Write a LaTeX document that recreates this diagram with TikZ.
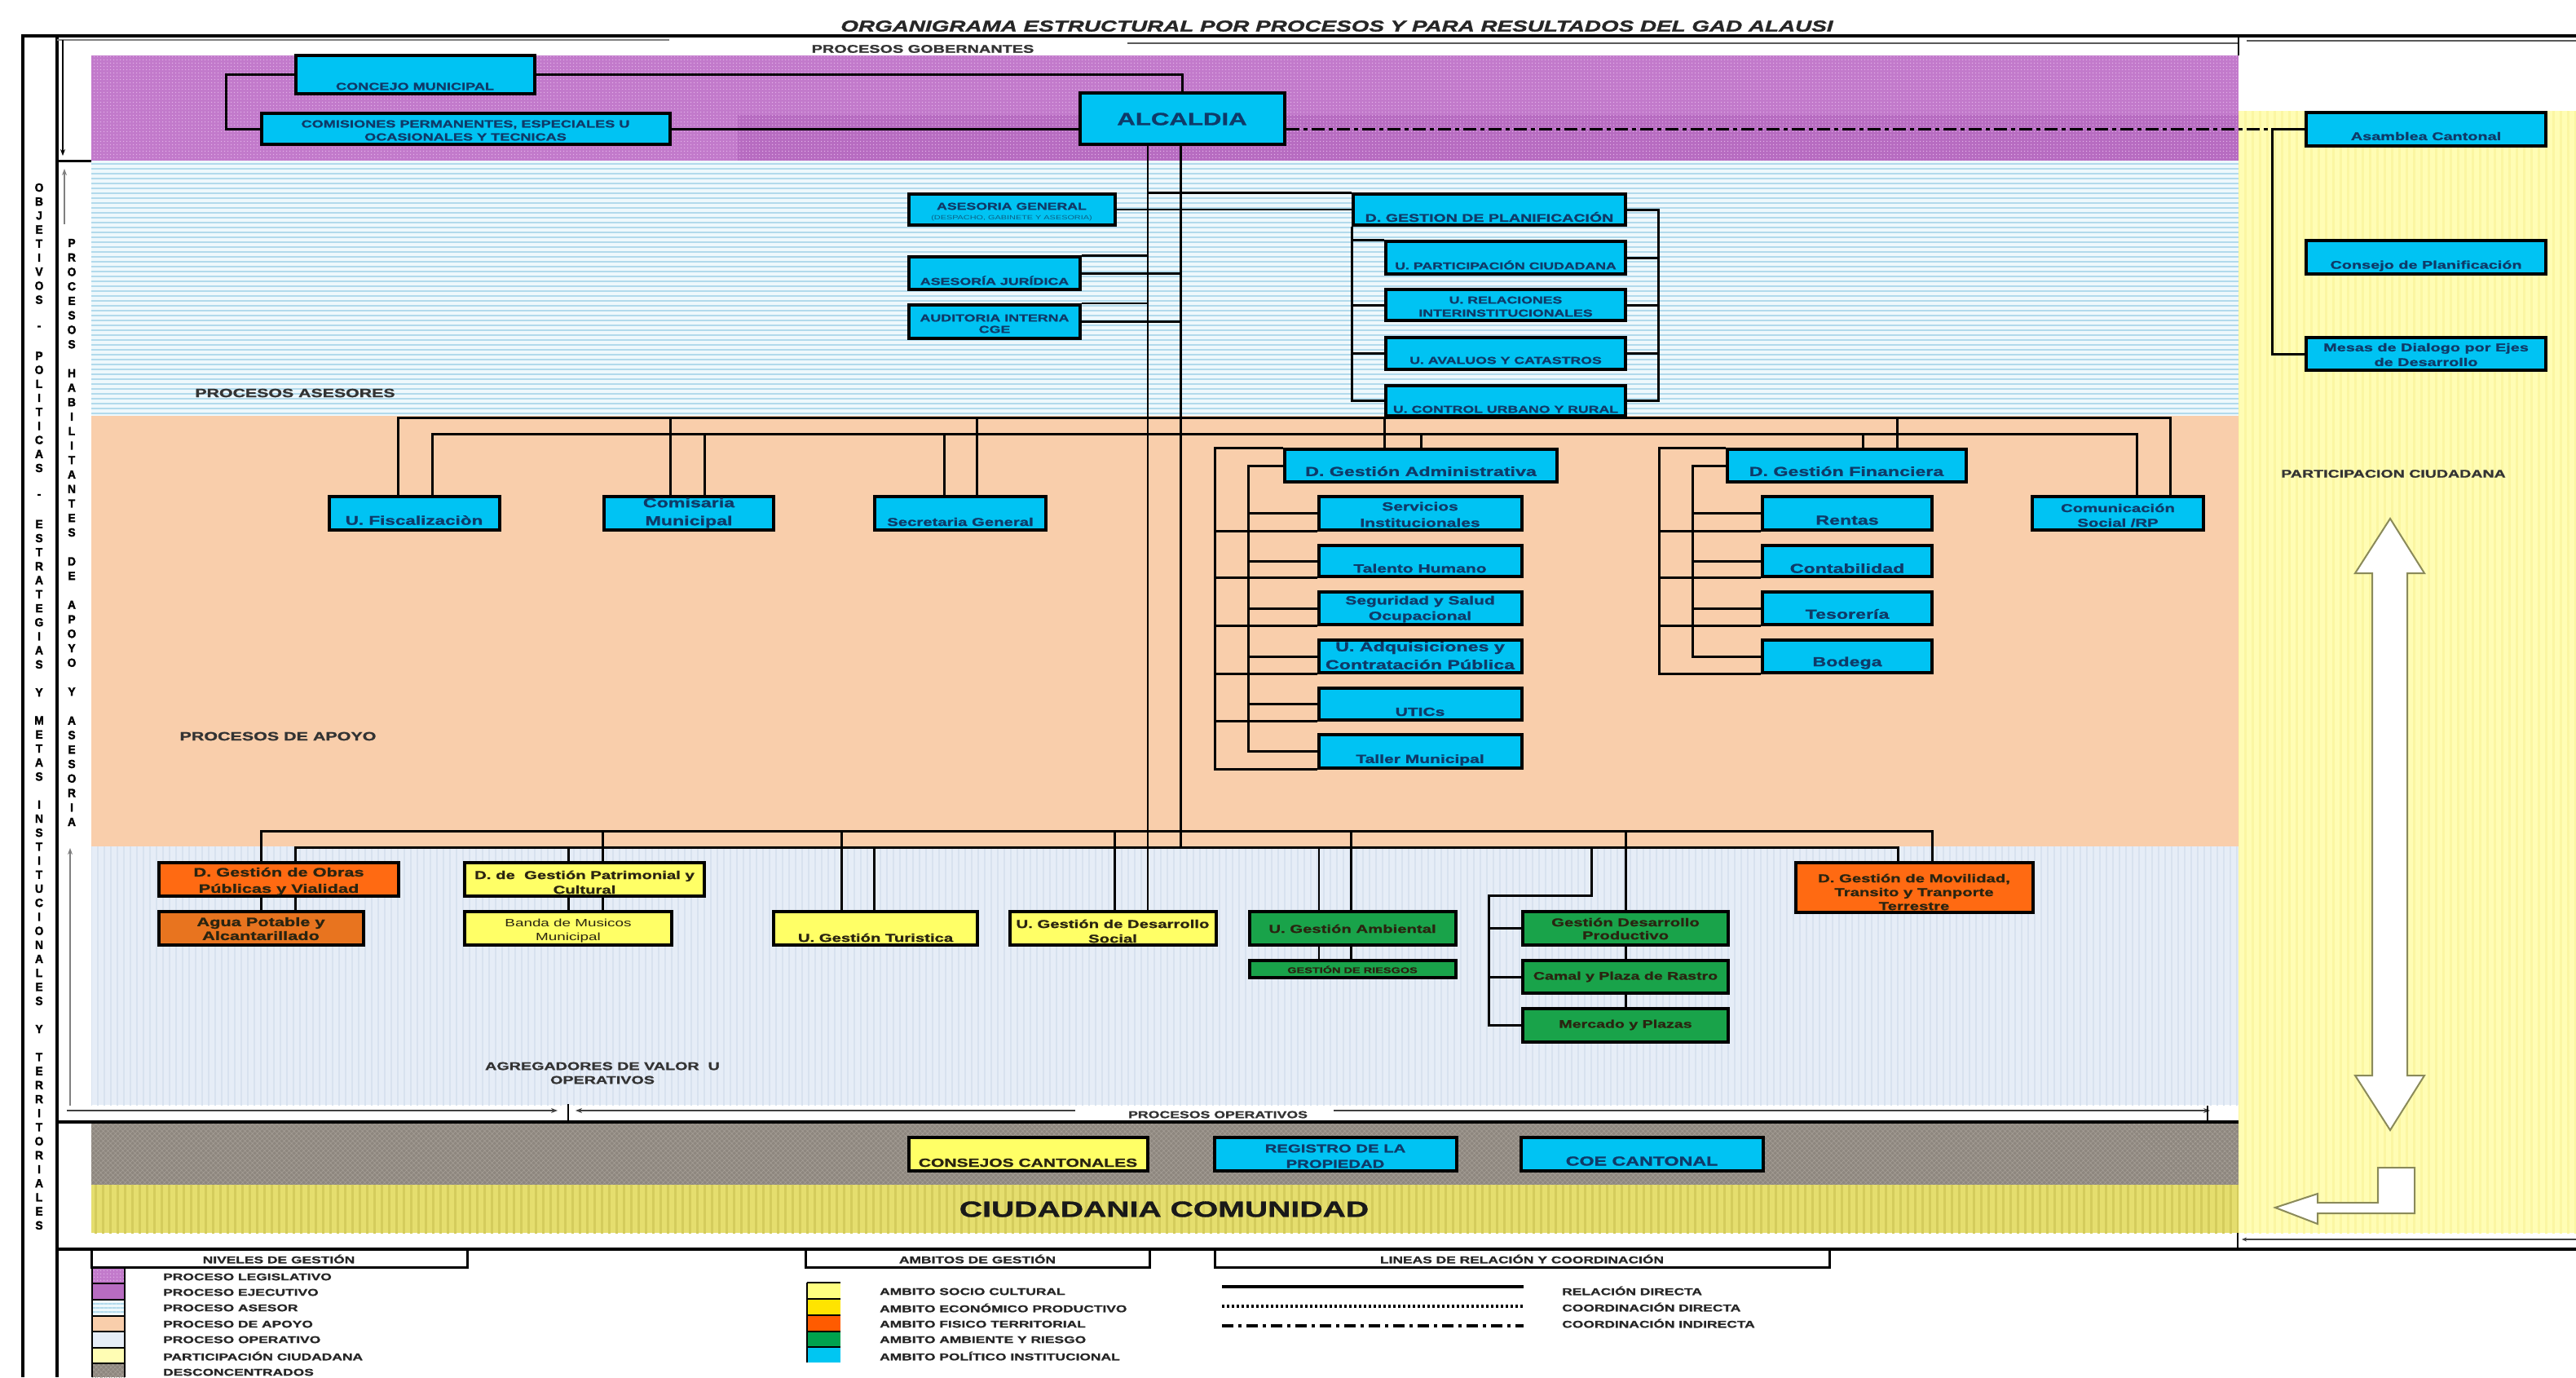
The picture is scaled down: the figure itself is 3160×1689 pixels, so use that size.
\documentclass[tikz,border=0pt]{standalone}
\usepackage{fontspec}
\setmainfont{Liberation Sans}[FakeStretch=1.45,BoldFeatures={FakeBold=1.3},BoldItalicFeatures={FakeBold=1.3}]
\newfontfamily\vfont{Liberation Sans}[FakeStretch=0.95,BoldFeatures={FakeBold=2}]
\usetikzlibrary{fit,arrows.meta,patterns.meta}
\definecolor{purpA}{HTML}{C27ACB}
\definecolor{purpDot}{HTML}{E2B0E8}
\definecolor{purpB}{HTML}{B76CC1}
\definecolor{asesorBase}{HTML}{EEF8FC}
\definecolor{asesorLine}{HTML}{B2DAEC}
\definecolor{apoyo}{HTML}{F9CEAB}
\definecolor{oper}{HTML}{E6EDF7}
\definecolor{operLine}{HTML}{D8E2EF}
\definecolor{desc}{HTML}{8E877F}
\definecolor{descLine}{HTML}{A59E95}
\definecolor{ciud}{HTML}{E5DE6E}
\definecolor{ciudLine}{HTML}{D4CC5C}
\definecolor{part}{HTML}{FFFDB4}
\definecolor{partLine}{HTML}{FBF6A2}
\definecolor{cyanbox}{HTML}{00C3F3}
\definecolor{orangebox}{HTML}{FF6A12}
\definecolor{aguabox}{HTML}{E8741F}
\definecolor{yellowbox}{HTML}{FFFF66}
\definecolor{greenbox}{HTML}{19A34A}
\definecolor{navy}{HTML}{0F3A68}
\definecolor{darktext}{HTML}{2A2410}
\definecolor{socio}{HTML}{FFFF80}
\definecolor{econ}{HTML}{FFE400}
\definecolor{fisico}{HTML}{FF5B00}
\definecolor{ambc}{HTML}{00A24E}
\definecolor{polc}{HTML}{00C6F2}
\definecolor{arrowedge}{HTML}{8A8A5A}
\newcommand\fs[2]{\fontsize{#1}{#2}\selectfont}
\newcommand\BX[6]{\node[#1, fit={(#3,#4) (#5,#6)}] (#2) {};}
\begin{document}
\begin{tikzpicture}[x=1pt,y=-1pt,
  box/.style={draw=black,line width=3.5pt,inner sep=0pt},
  cb/.style={box,fill=cyanbox},
  ob/.style={box,fill=orangebox},
  ab/.style={box,fill=aguabox},
  yb/.style={box,fill=yellowbox},
  gb/.style={box,fill=greenbox},
  ct/.style={inner sep=0pt,align=center,text=navy},
  kt/.style={inner sep=0pt,align=center,text=darktext},
  lab/.style={inner sep=0pt,align=center,text=black!80},
  rel/.style={line width=3pt},
  thinl/.style={line width=1.6pt},
  dd/.style={line width=3pt,dash pattern=on 16pt off 5pt on 5pt off 5pt},
  vl/.style={inner sep=0pt,font=\vfont\bfseries\fs{14.5}{15},text=black},
  tip/.style={-{Stealth[length=8pt,width=6pt]}},
  lh/.style={draw=black,line width=3pt,inner sep=0pt},
  sw/.style={draw=black,line width=2pt},
  lg/.style={inner sep=0pt,anchor=west,font=\bfseries\fs{12}{14},text=black!85}
]
\useasboundingbox (0,0) rectangle (3160,1689);
\fill[white] (0,0) rectangle (3160,1689);

% ---------- bands ----------
\fill[purpA] (112,68) rectangle (2746,197);
\fill[purpB] (905,141) rectangle (2746,197);
\fill[pattern={Dots[radius=0.9pt,distance=4pt]},pattern color=purpDot] (112,68) rectangle (2746,197);
\fill[asesorBase] (112,197) rectangle (2746,510);
\fill[pattern={Lines[angle=0,distance=6pt,line width=2.4pt]},pattern color=asesorLine] (112,197) rectangle (2746,510);
\fill[apoyo] (112,510) rectangle (2746,1038);
\fill[oper] (112,1038) rectangle (2746,1355);
\fill[pattern={Lines[angle=90,distance=8pt,line width=2pt]},pattern color=operLine] (112,1038) rectangle (2746,1355);
\fill[desc] (112,1378) rectangle (2746,1453);
\fill[pattern={Hatch[angle=45,distance=4pt,line width=0.8pt]},pattern color=descLine] (112,1378) rectangle (2746,1453);
\fill[ciud] (112,1453) rectangle (2746,1512);
\fill[pattern={Lines[angle=90,distance=9pt,line width=3pt]},pattern color=ciudLine] (112,1453) rectangle (2746,1512);
\fill[part] (2746,136) rectangle (3160,1512);
\fill[pattern={Lines[angle=90,distance=9pt,line width=3pt]},pattern color=partLine] (2746,136) rectangle (3160,1512);

% ---------- frame ----------
\draw[line width=3.2pt] (28,1689) -- (28,44) -- (3160,44);
\draw[line width=3.2pt] (70,44) -- (70,1689);
\draw[line width=3pt] (70,197) -- (112,197);
\draw[line width=4pt] (70,1376) -- (2746,1376);
\draw[line width=4pt] (70,1532) -- (3160,1532);
\draw[gray,line width=1.5pt] (70,49) -- (821,49);
\draw[gray!70!black,line width=1.2pt] (1383,53) -- (2746,53);
\draw[gray!70!black,line width=1.2pt] (2756,50) -- (3160,50);
\draw[line width=2pt] (2746,44) -- (2746,68);
\draw[line width=1.2pt,tip] (77,49) -- (77,191);
\draw[gray,line width=1.5pt,tip] (79,275) -- (79,207);
\draw[gray,line width=2pt,tip] (86,1356) -- (86,1040);

% ---------- title & labels ----------
\node[inner sep=0pt,font=\bfseries\itshape\fs{19.2}{22},text=black!85] (title) at (1640,32) {ORGANIGRAMA ESTRUCTURAL POR PROCESOS Y PARA RESULTADOS DEL GAD ALAUSI};
\node[lab,font=\bfseries\fs{13.7}{16}] (lgob) at (1132,60) {PROCESOS GOBERNANTES};
\node[lab,font=\bfseries\fs{14.7}{17}] (lase) at (362,482) {PROCESOS ASESORES};
\node[lab,font=\bfseries\fs{14.8}{17}] (lapo) at (341,903) {PROCESOS DE APOYO};
\node[lab,font=\bfseries\fs{13.6}{17}] (lagr) at (739,1316) {AGREGADORES DE VALOR\ \ U\\OPERATIVOS};
\node[lab,font=\bfseries\fs{12.2}{14}] (lope) at (1494,1367) {PROCESOS OPERATIVOS};
\node[lab,font=\bfseries\fs{13.5}{16}] (lpar) at (2936,581) {PARTICIPACION CIUDADANA};
\node[inner sep=0pt,font=\bfseries\fs{27}{30},text=black!90] (lciu) at (1428,1483) {CIUDADANIA COMUNIDAD};

% vertical letters
\foreach \ch [count=\i from 0] in {O,B,J,E,T,I,V,O,S,{},-,{},P,O,L,I,T,I,C,A,S,{},-,{},E,S,T,R,A,T,E,G,I,A,S,{},Y,{},M,E,T,A,S,{},I,N,S,T,I,T,U,C,I,O,N,A,L,E,S,{},Y,{},T,E,R,R,I,T,O,R,I,A,L,E,S}
  \node[vl] (ov\i) at (48,{230+17.2*\i}) {\ch};
\foreach \ch [count=\i from 0] in {P,R,O,C,E,S,O,S,{},H,A,B,I,L,I,T,A,N,T,E,S,{},D,E,{},A,P,O,Y,O,{},Y,{},A,S,E,S,O,R,I,A}
  \node[vl] (iv\i) at (88,{298+17.75*\i}) {\ch};

% ---------- boxes ----------
\BX{cb}{conc}{363}{68}{656}{115}
\BX{cb}{com}{321}{139}{822}{177}
\BX{cb}{alc}{1325}{114}{1576}{177}
\BX{cb}{ag}{1115}{238}{1368}{276}
\BX{cb}{aj}{1115}{315}{1325}{355}
\BX{cb}{au}{1115}{374}{1325}{415}
\BX{cb}{dgp}{1660}{238}{1994}{276}
\BX{cb}{upart}{1700}{296}{1994}{336}
\BX{cb}{urel}{1700}{355}{1994}{393}
\BX{cb}{uaval}{1700}{414}{1994}{453}
\BX{cb}{uctrl}{1700}{473}{1994}{510}
\BX{cb}{ufis}{404}{609}{613}{650}
\BX{cb}{comis}{741}{609}{949}{650}
\BX{cb}{secr}{1073}{609}{1283}{650}
\BX{cb}{dga}{1576}{551}{1910}{591}
\BX{cb}{dgf}{2119}{551}{2412}{591}
\BX{cb}{comu}{2493}{609}{2703}{650}
\BX{cb}{serv}{1618}{609}{1867}{650}
\BX{cb}{tal}{1618}{669}{1867}{707}
\BX{cb}{seg}{1618}{726}{1867}{766}
\BX{cb}{adq}{1618}{785}{1867}{825}
\BX{cb}{utic}{1618}{844}{1867}{883}
\BX{cb}{tall}{1618}{901}{1867}{942}
\BX{cb}{rent}{2162}{609}{2370}{650}
\BX{cb}{cont}{2162}{669}{2370}{707}
\BX{cb}{teso}{2162}{726}{2370}{766}
\BX{cb}{bode}{2162}{785}{2370}{825}
\BX{ob}{obras}{195}{1058}{489}{1099}
\BX{ab}{agua}{195}{1118}{446}{1159}
\BX{yb}{patr}{570}{1058}{864}{1099}
\BX{yb}{banda}{570}{1118}{824}{1159}
\BX{yb}{turi}{949}{1118}{1199}{1159}
\BX{yb}{dsoc}{1239}{1118}{1492}{1159}
\BX{gb}{amb}{1533}{1118}{1786}{1159}
\BX{gb}{ries}{1533}{1178}{1786}{1199}
\BX{gb}{gdp}{1868}{1118}{2120}{1159}
\BX{gb}{camal}{1868}{1178}{2120}{1218}
\BX{gb}{merc}{1868}{1237}{2120}{1278}
\BX{ob}{mov}{2203}{1058}{2494}{1119}
\BX{yb}{ccant}{1115}{1395}{1408}{1436}
\BX{cb}{regp}{1490}{1395}{1787}{1436}
\BX{cb}{coe}{1866}{1395}{2163}{1436}
\BX{cb}{asam}{2829}{138}{3123}{179}
\BX{cb}{cplan}{2829}{295}{3123}{336}
\BX{cb}{mesas}{2829}{414}{3123}{454}

% ---------- box texts ----------
\node[ct,font=\bfseries\fs{12.5}{16}] (concT) at (509,106) {CONCEJO MUNICIPAL};
\node[ct,font=\bfseries\fs{12.5}{16}] (comT) at (571,160) {COMISIONES PERMANENTES, ESPECIALES U\\OCASIONALES Y TECNICAS};
\node[ct,font=\bfseries\fs{21.5}{24}] (alcT) at (1450,146) {ALCALDIA};
\node[ct,font=\bfseries\fs{12.2}{14}] (agT) at (1241,253) {ASESORIA GENERAL};
\node[ct,font=\fs{7.5}{9},text=navy!80!cyan] (agT2) at (1241,268) {(DESPACHO, GABINETE Y ASESORIA)};
\node[ct,font=\bfseries\fs{12.3}{14}] (ajT) at (1220,344) {ASESORÍA JURÍDICA};
\node[ct,font=\bfseries\fs{12.3}{14}] (auT) at (1220,397) {AUDITORIA INTERNA\\CGE};
\node[ct,font=\bfseries\fs{13.5}{16}] (dgpT) at (1827,266) {D. GESTION DE PLANIFICACIÓN};
\node[ct,font=\bfseries\fs{12.2}{16}] (upartT) at (1847,325) {U. PARTICIPACIÓN CIUDADANA};
\node[ct,font=\bfseries\fs{12.2}{16}] (urelT) at (1847,376) {U. RELACIONES\\INTERINSTITUCIONALES};
\node[ct,font=\bfseries\fs{12.2}{16}] (uavalT) at (1847,442) {U. AVALUOS Y CATASTROS};
\node[ct,font=\bfseries\fs{12.2}{16}] (uctrlT) at (1847,502) {U. CONTROL URBANO Y RURAL};
\node[ct,font=\bfseries\fs{15.5}{18}] (ufisT) at (508,638) {U. Fiscalizaciòn};
\node[ct,font=\bfseries\fs{16}{22}] (comisT) at (845,629) {Comisaria\\Municipal};
\node[ct,font=\bfseries\fs{14}{16}] (secrT) at (1178,640) {Secretaria General};
\node[ct,font=\bfseries\fs{16}{18}] (dgaT) at (1743,578) {D. Gestión Administrativa};
\node[ct,font=\bfseries\fs{16}{18}] (dgfT) at (2265,578) {D. Gestión Financiera};
\node[ct,font=\bfseries\fs{14}{18}] (comuT) at (2598,632) {Comunicación\\Social /RP};
\node[ct,font=\bfseries\fs{14.5}{20}] (servT) at (1742,631) {Servicios\\Institucionales};
\node[ct,font=\bfseries\fs{14.5}{16}] (talT) at (1742,697) {Talento Humano};
\node[ct,font=\bfseries\fs{14.5}{19}] (segT) at (1742,747) {Seguridad y Salud\\Ocupacional};
\node[ct,font=\bfseries\fs{16}{22}] (adqT) at (1742,804) {U. Adquisiciones y\\Contratación Pública};
\node[ct,font=\bfseries\fs{14.5}{16}] (uticT) at (1742,873) {UTICs};
\node[ct,font=\bfseries\fs{14.5}{16}] (tallT) at (1742,932) {Taller Municipal};
\node[ct,font=\bfseries\fs{16}{18}] (rentT) at (2266,638) {Rentas};
\node[ct,font=\bfseries\fs{16}{18}] (contT) at (2266,697) {Contabilidad};
\node[ct,font=\bfseries\fs{16}{18}] (tesoT) at (2266,753) {Tesorería};
\node[ct,font=\bfseries\fs{16}{18}] (bodeT) at (2266,813) {Bodega};
\node[kt,font=\bfseries\fs{15}{20}] (obrasT) at (342,1081) {D. Gestión de Obras\\Públicas y Vialidad};
\node[kt,font=\bfseries\fs{15}{17}] (aguaT) at (320,1139) {Agua Potable y\\Alcantarillado};
\node[kt,font=\bfseries\fs{14}{18}] (patrT) at (717,1082) {D. de\ \ Gestión Patrimonial y\\Cultural};
\node[kt,font=\fs{13}{17}] (bandaT) at (697,1142) {Banda de Musicos\\Municipal};
\node[kt,font=\bfseries\fs{14}{16}] (turiT) at (1074,1150) {U. Gestión Turistica};
\node[kt,font=\bfseries\fs{14}{18}] (dsocT) at (1365,1142) {U. Gestión de Desarrollo\\Social};
\node[kt,font=\bfseries\fs{14}{16}] (ambT) at (1659,1139) {U. Gestión Ambiental};
\node[kt,font=\bfseries\fs{10}{12}] (riesT) at (1659,1189) {GESTIÓN DE RIESGOS};
\node[kt,font=\bfseries\fs{14}{16}] (gdpT) at (1994,1139) {Gestión Desarrollo\\Productivo};
\node[kt,font=\bfseries\fs{13.5}{16}] (camalT) at (1994,1198) {Camal y Plaza de Rastro};
\node[kt,font=\bfseries\fs{13.5}{16}] (mercT) at (1994,1257) {Mercado y Plazas};
\node[kt,font=\bfseries\fs{14}{17}] (movT) at (2348,1094) {D. Gestión de Movilidad,\\Transito y Tranporte\\Terrestre};
\node[kt,font=\bfseries\fs{14.5}{17}] (ccantT) at (1261,1426) {CONSEJOS CANTONALES};
\node[ct,font=\bfseries\fs{14}{19}] (regpT) at (1638,1418) {REGISTRO DE LA\\PROPIEDAD};
\node[ct,font=\bfseries\fs{16}{18}] (coeT) at (2014,1424) {COE CANTONAL};
\node[ct,font=\bfseries\fs{13.7}{16}] (asamT) at (2976,167) {Asamblea Cantonal};
\node[ct,font=\bfseries\fs{13.7}{16}] (cplanT) at (2976,326) {Consejo de Planificación};
\node[ct,font=\bfseries\fs{13.7}{18}] (mesasT) at (2976,435) {Mesas de Dialogo por Ejes\\de Desarrollo};

% ---------- connectors ----------
\coordinate (T1) at (1408,0);
\coordinate (T2) at (1448,0);
\coordinate (b1) at (0,512);
\coordinate (b2) at (0,532);
\coordinate (b3) at (0,1019);
\coordinate (b4) at (0,1039);
\coordinate (pr) at (2034,0);
\coordinate (vr) at (2787,158);
\coordinate (pg) at (1826,1098);

\draw[rel] (conc.east) -| (alc.north);
\draw[rel] (conc.west) -- ++(-84,0) |- (com.west);
\draw[rel] (com.east) -- (com.east -| alc.west);
\draw[dd] (alc.east |- vr) -- (vr);
\draw[rel] (asam.west) -| (mesas.west -| vr) -- (mesas.west);

\draw[thinl] (alc.south -| T1) -- (dsoc.north -| T1);
\draw[rel] (alc.south -| T2) -- (T2 |- b4);

\draw[rel] (dgp.north west) -- (dgp.north west -| T1);
\draw[thinl] (ag.east) -- (ag.east -| dgp.west);
\draw[rel] (aj.north east) -- (aj.north east -| T1);
\draw[rel] (aj.east) -- (aj.east -| T2);
\draw[thinl] (au.north east) -- (au.north east -| T1);
\draw[rel] (au.east) -- (au.east -| T2);

\draw[rel] (dgp.east) -| (uctrl.east -| pr) -- (uctrl.east);
\foreach \n in {upart,urel,uaval} \draw[rel] (\n.east) -- (\n.east -| pr);
\draw[rel] (dgp.south west) |- (uctrl.west);
\draw[rel] (upart.north west) -- (upart.north west -| dgp.west);
\foreach \n in {urel,uaval} \draw[rel] (\n.west) -- (\n.west -| dgp.west);

% apoyo buses
\draw[rel] ([xshift=-20pt]ufis.north) |- ([xshift=64pt]comu.north |- b1) -- ([xshift=64pt]comu.north);
\draw[rel] ([xshift=22pt]ufis.north) |- ([xshift=23pt]comu.north |- b2) -- ([xshift=23pt]comu.north);
\draw[rel] ([xshift=-23pt]comis.north) -- ([xshift=-23pt]comis.north |- b1);
\draw[rel] ([xshift=19pt]comis.north) -- ([xshift=19pt]comis.north |- b2);
\draw[rel] ([xshift=-20pt]secr.north) -- ([xshift=-20pt]secr.north |- b2);
\draw[rel] ([xshift=20pt]secr.north) -- ([xshift=20pt]secr.north |- b1);
\draw[rel] (uctrl.south west) -- (uctrl.south west |- dga.north);
\draw[rel] (dga.north) -- (dga.north |- b2);
\draw[rel] ([xshift=20pt]dgf.north) -- ([xshift=20pt]dgf.north |- b2);
\draw[rel] ([xshift=62pt]dgf.north) -- ([xshift=62pt]dgf.north |- b1);

% administrativa
\draw[rel] (dga.north west) -- ++(-84,0) coordinate (ao) |- (tall.south west);
\foreach \n in {serv,tal,seg,adq,utic} \draw[rel] (\n.south west) -- (\n.south west -| ao);
\draw[rel] (dga.west) -- ++(-43,0) coordinate (ai) |- (tall.west);
\foreach \n in {serv,tal,seg,adq,utic} \draw[rel] (\n.west) -- (\n.west -| ai);
% financiera
\draw[rel] (dgf.north west) -- ++(-82,0) coordinate (fo) |- (bode.south west);
\foreach \n in {rent,cont,teso} \draw[rel] (\n.south west) -- (\n.south west -| fo);
\draw[rel] (dgf.west) -- ++(-41,0) coordinate (fi) |- (bode.west);
\foreach \n in {rent,cont,teso} \draw[rel] (\n.west) -- (\n.west -| fi);

% operativo buses
\draw[rel] ([xshift=-22pt]obras.north) |- ([xshift=22pt]mov.north |- b3) -- ([xshift=22pt]mov.north);
\draw[rel] ([xshift=20pt]obras.north) |- ([xshift=-20pt]mov.north |- b4) -- ([xshift=-20pt]mov.north);
\draw[rel] ([xshift=-22pt]obras.south) -- ([xshift=-22pt]obras.south |- agua.north);
\draw[rel] ([xshift=20pt]obras.south) -- ([xshift=20pt]obras.south |- agua.north);
\draw[rel] ([xshift=-20pt]patr.north) -- ([xshift=-20pt]patr.north |- b4);
\draw[rel] ([xshift=22pt]patr.north) -- ([xshift=22pt]patr.north |- b3);
\draw[rel] ([xshift=-20pt]patr.south) -- ([xshift=-20pt]patr.south |- banda.north);
\draw[rel] ([xshift=22pt]patr.south) -- ([xshift=22pt]patr.south |- banda.north);
\draw[rel] ([xshift=-42pt]turi.north) -- ([xshift=-42pt]turi.north |- b3);
\draw[rel] ([xshift=-2pt]turi.north) -- ([xshift=-2pt]turi.north |- b4);
\draw[rel] ([xshift=1.5pt]dsoc.north) -- ([xshift=1.5pt]dsoc.north |- b3);
\draw[thinl] ([xshift=-41.5pt]amb.north) -- ([xshift=-41.5pt]amb.north |- b4);
\draw[rel] ([xshift=-2.5pt]amb.north) -- ([xshift=-2.5pt]amb.north |- b3);
\draw[thinl] ([xshift=-41.5pt]amb.south) -- ([xshift=-41.5pt]amb.south |- ries.north);
\draw[rel] ([xshift=-2.5pt]amb.south) -- ([xshift=-2.5pt]amb.south |- ries.north);
\draw[rel] (gdp.north) -- (gdp.north |- b3);
\draw[rel] (gdp.south) -- (camal.north);
\draw[rel] (camal.south) -- (merc.north);
\draw[rel] ([xshift=-42pt]gdp.north |- b4) |- (pg) |- (merc.west);
\foreach \n in {gdp,camal} \draw[rel] (\n.west) -- (\n.west -| pg);

% operativos arrows
\coordinate (oa1) at (82,1362);
\coordinate (oa2) at (684,1362);
\coordinate (ot1) at (697,1354);
\coordinate (ot2) at (697,1374);
\coordinate (oa3) at (1319,1362);
\coordinate (oa4) at (706,1362);
\coordinate (oa5) at (1636,1362);
\coordinate (oa6) at (2711,1362);
\coordinate (ot3) at (2708,1356);
\coordinate (ot4) at (2708,1376);
\draw[black!75,line width=1.6pt,tip] (oa1) -- (oa2);
\draw[line width=2.5pt] (ot1) -- (ot2);
\draw[black!75,line width=1.6pt,tip] (oa3) -- (oa4);
\draw[black!75,line width=1.6pt,tip] (oa5) -- (oa6);
\draw[line width=2.5pt] (ot3) -- (ot4);
\coordinate (pa1) at (3160,1520);
\coordinate (pa2) at (2750,1520);
\draw[black!75,line width=1.4pt,-{Stealth[length=6pt,width=5pt]}] (pa1) -- (pa2);
\draw[line width=2pt] (2745,1512) -- (2745,1532);

% participacion arrows
\draw[arrowedge,fill=white,line width=2pt,line join=miter]
  (2932,636) -- (2974,703) -- (2953,703) -- (2953,1319) -- (2974,1319) -- (2932,1386)
  -- (2889,1319) -- (2910,1319) -- (2910,703) -- (2889,703) -- cycle;
\draw[arrowedge,fill=white,line width=2pt,line join=miter]
  (2791,1481) -- (2843,1464) -- (2843,1475) -- (2917,1475) -- (2917,1432) -- (2962,1432)
  -- (2962,1488) -- (2843,1488) -- (2843,1501) -- cycle;

% ---------- legend ----------
\node[lh,fit={(112,1532) (573,1554)}] (lh1) {};
\node[lh,fit={(988,1532) (1410,1554)}] (lh2) {};
\node[lh,fit={(1490,1532) (2244,1554)}] (lh3) {};
\node[inner sep=0pt,font=\bfseries\fs{12}{14},text=black!85] (lh1T) at (342,1544) {NIVELES DE GESTIÓN};
\node[inner sep=0pt,font=\bfseries\fs{12}{14},text=black!85] (lh2T) at (1199,1544) {AMBITOS DE GESTIÓN};
\node[inner sep=0pt,font=\bfseries\fs{12}{14},text=black!85] (lh3T) at (1867,1544) {LINEAS DE RELACIÓN Y COORDINACIÓN};

\fill[purpA] (113,1556) rectangle (153,1573);
\fill[pattern={Dots[radius=0.9pt,distance=4pt]},pattern color=purpDot] (113,1556) rectangle (153,1573);
\fill[purpB] (113,1575) rectangle (153,1593);
\fill[asesorBase] (113,1594) rectangle (153,1613);
\fill[pattern={Lines[angle=0,distance=5pt,line width=2pt]},pattern color=asesorLine] (113,1594) rectangle (153,1613);
\fill[apoyo] (113,1614) rectangle (153,1633);
\fill[oper] (113,1634) rectangle (153,1652);
\fill[part] (113,1653) rectangle (153,1671);
\fill[desc] (113,1673) rectangle (153,1689);
\fill[pattern={Hatch[angle=45,distance=4pt,line width=0.8pt]},pattern color=descLine] (113,1673) rectangle (153,1689);
\foreach \y in {1555,1574,1594,1614,1633,1653,1672} \draw[line width=2pt] (112,\y) -- (153,\y);
\draw[line width=2.5pt] (113,1532) -- (113,1689);
\draw[line width=2pt] (153,1555) -- (153,1689);

\node[lg] (l1) at (200,1566) {PROCESO LEGISLATIVO};
\node[lg] (l2) at (200,1585) {PROCESO EJECUTIVO};
\node[lg] (l3) at (200,1604) {PROCESO ASESOR};
\node[lg] (l4) at (200,1624) {PROCESO DE APOYO};
\node[lg] (l5) at (200,1643) {PROCESO OPERATIVO};
\node[lg] (l6) at (200,1663) {PARTICIPACIÓN CIUDADANA};
\node[lg] (l7) at (200,1683) {DESCONCENTRADOS};

\fill[socio] (990,1574) rectangle (1031,1593);
\fill[econ] (990,1594) rectangle (1031,1613);
\fill[fisico] (990,1614) rectangle (1031,1633);
\fill[ambc] (990,1634) rectangle (1031,1652);
\fill[polc] (990,1653) rectangle (1031,1671);
\foreach \y in {1573,1593,1613,1633,1652} \draw[line width=2pt] (990,\y) -- (1031,\y);
\draw[line width=2pt] (990,1573) -- (990,1671);
\node[lg] (m1) at (1079,1584) {AMBITO SOCIO CULTURAL};
\node[lg] (m2) at (1079,1604) {AMBITO ECONÓMICO PRODUCTIVO};
\node[lg] (m3) at (1079,1624) {AMBITO FISICO TERRITORIAL};
\node[lg] (m4) at (1079,1643) {AMBITO AMBIENTE Y RIESGO};
\node[lg] (m5) at (1079,1663) {AMBITO POLÍTICO INSTITUCIONAL};

\coordinate (s1a) at (1499,1578); \coordinate (s1b) at (1869,1578);
\coordinate (s2a) at (1499,1602); \coordinate (s2b) at (1869,1602);
\coordinate (s3a) at (1499,1626); \coordinate (s3b) at (1869,1626);
\draw[line width=3.5pt] (s1a) -- (s1b);
\draw[line width=3.5pt,dash pattern=on 3pt off 3pt] (s2a) -- (s2b);
\draw[line width=3.5pt,dash pattern=on 14pt off 6pt on 4pt off 6pt] (s3a) -- (s3b);
\node[lg] (n1) at (1916,1583) {RELACIÓN DIRECTA};
\node[lg] (n2) at (1916,1603) {COORDINACIÓN DIRECTA};
\node[lg] (n3) at (1916,1623) {COORDINACIÓN INDIRECTA};
\end{tikzpicture}
\end{document}
